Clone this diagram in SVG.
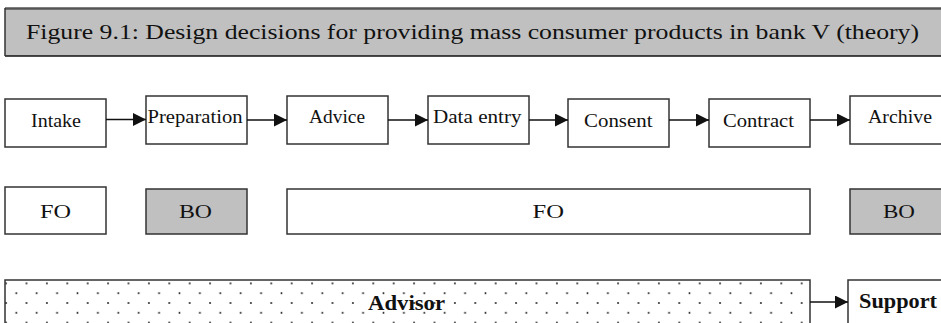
<svg xmlns="http://www.w3.org/2000/svg" width="941" height="323" viewBox="0 0 941 323">
<style>
text{font-family:"Liberation Serif","Times New Roman",serif;fill:#111}
.box{fill:#fff;stroke:#333;stroke-width:1.5}
.grey{fill:#c0c0c0;stroke:#333;stroke-width:1.5}
.lbl{font-size:19px}
.bold{font-size:20px;font-weight:bold}
.conn{stroke:#111;stroke-width:1.5;fill:none}
.dot{fill:#222}
</style>
<defs>
<marker id="ah" markerWidth="13" markerHeight="13" refX="13" refY="6.5" orient="auto" markerUnits="userSpaceOnUse">
<path d="M0,0 L13,6.5 L0,13 z" fill="#111"/>
</marker>
<pattern id="dots" patternUnits="userSpaceOnUse" x="6.1" y="283.4" width="20.4" height="19.6">
<circle class="dot" cx="0" cy="0" r="1"/>
<circle class="dot" cx="20.4" cy="0" r="1"/>
<circle class="dot" cx="0" cy="19.6" r="1"/>
<circle class="dot" cx="20.4" cy="19.6" r="1"/>
<circle class="dot" cx="10.2" cy="9.8" r="1"/>
</pattern>
</defs>

<g id="title">
<rect x="5" y="8" width="945" height="48" fill="#c0c0c0"/>
<line x1="5" y1="8.5" x2="941" y2="8.5" stroke="#555" stroke-width="2.5"/>
<line x1="5" y1="56" x2="941" y2="56" stroke="#111" stroke-width="1.5"/>
<line x1="5" y1="8" x2="5" y2="56" stroke="#333" stroke-width="1.5"/>
<text x="26" y="39" font-size="22" textLength="893" lengthAdjust="spacingAndGlyphs">Figure 9.1: Design decisions for providing mass consumer products in bank V (theory)</text>
</g>

<g id="intake"><rect class="box" x="5" y="99" width="101" height="48"/><text class="lbl" x="31" y="127" textLength="50" lengthAdjust="spacingAndGlyphs">Intake</text></g>
<g id="preparation"><rect class="box" x="146" y="96" width="101" height="48"/><text class="lbl" x="147.5" y="123" textLength="95" lengthAdjust="spacingAndGlyphs">Preparation</text></g>
<g id="advice"><rect class="box" x="287" y="96" width="101" height="48"/><text class="lbl" x="309" y="123" textLength="56" lengthAdjust="spacingAndGlyphs">Advice</text></g>
<g id="dataentry"><rect class="box" x="428" y="96" width="101" height="48"/><text class="lbl" x="433" y="123" textLength="88.5" lengthAdjust="spacingAndGlyphs">Data entry</text></g>
<g id="consent"><rect class="box" x="568" y="99" width="101" height="48"/><text class="lbl" x="584" y="127" textLength="68.5" lengthAdjust="spacingAndGlyphs">Consent</text></g>
<g id="contract"><rect class="box" x="709" y="99" width="101" height="48"/><text class="lbl" x="723" y="127" textLength="71" lengthAdjust="spacingAndGlyphs">Contract</text></g>
<g id="archive"><rect class="box" x="850" y="96" width="101" height="48"/><text class="lbl" x="868" y="123" textLength="64" lengthAdjust="spacingAndGlyphs">Archive</text></g>

<g id="fo1"><rect class="box" x="5" y="187" width="101" height="47"/><text class="lbl" x="40" y="218" textLength="31" lengthAdjust="spacingAndGlyphs">FO</text></g>
<g id="bo1"><rect class="grey" x="146" y="189" width="101" height="45"/><text class="lbl" x="179" y="218" textLength="33" lengthAdjust="spacingAndGlyphs">BO</text></g>
<g id="fo2"><rect class="box" x="287" y="189" width="523" height="45"/><text class="lbl" x="532.5" y="218" textLength="31.5" lengthAdjust="spacingAndGlyphs">FO</text></g>
<g id="bo2"><rect class="grey" x="850" y="189" width="101" height="45"/><text class="lbl" x="883" y="218" textLength="32" lengthAdjust="spacingAndGlyphs">BO</text></g>

<g id="advisor"><rect x="5" y="280" width="805" height="60" fill="url(#dots)" stroke="#333" stroke-width="1.5"/><text class="bold" x="368" y="310" textLength="77" lengthAdjust="spacingAndGlyphs">Advisor</text></g>
<g id="support"><rect class="box" x="848" y="280" width="100" height="60"/><text class="bold" x="859" y="308" textLength="78" lengthAdjust="spacingAndGlyphs">Support</text></g>

<g id="connectors">
<line class="conn" x1="106" y1="119.5" x2="146" y2="119.5" marker-end="url(#ah)"/>
<line class="conn" x1="247" y1="120" x2="287" y2="120" marker-end="url(#ah)"/>
<line class="conn" x1="388" y1="120" x2="428" y2="120" marker-end="url(#ah)"/>
<line class="conn" x1="529" y1="120" x2="568" y2="120" marker-end="url(#ah)"/>
<line class="conn" x1="669" y1="120" x2="709" y2="120" marker-end="url(#ah)"/>
<line class="conn" x1="810" y1="120" x2="850" y2="120" marker-end="url(#ah)"/>
<line class="conn" x1="810" y1="302" x2="848" y2="302" marker-end="url(#ah)"/>
</g>
</svg>
